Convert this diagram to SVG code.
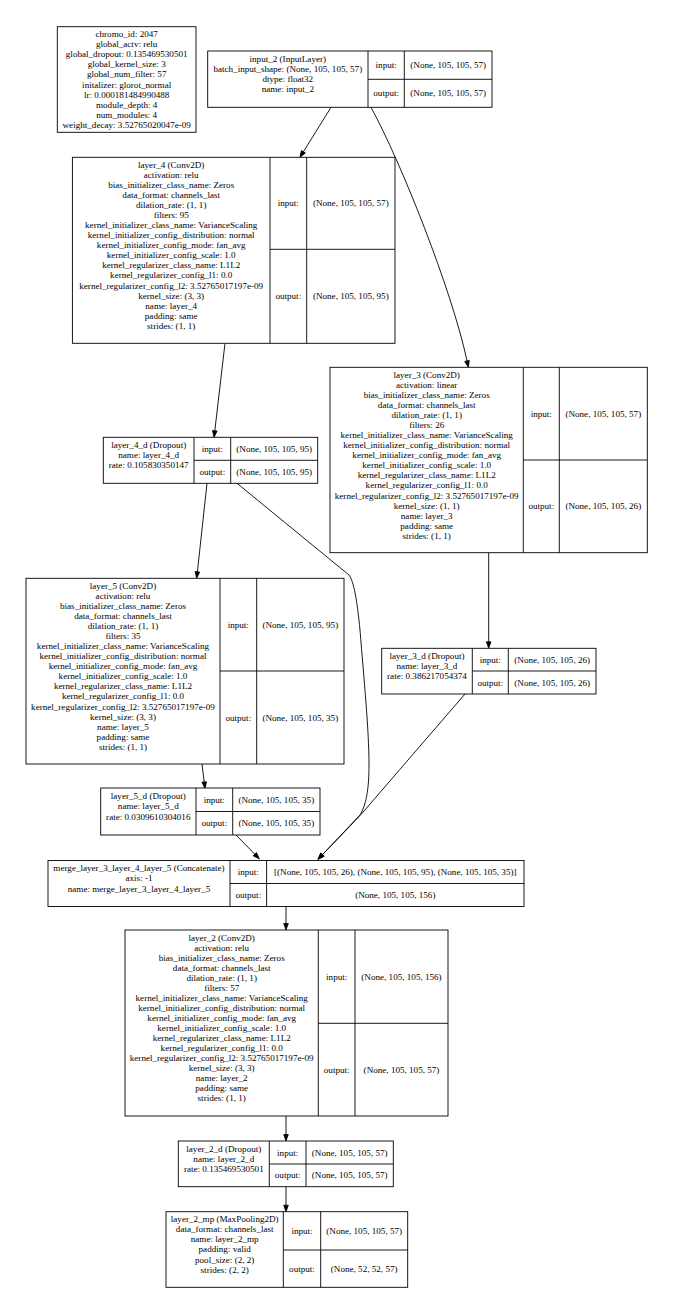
<svg xmlns="http://www.w3.org/2000/svg" width="674" height="1315" viewBox="0 0 674 1315">
<style>
text{font-family:"Liberation Serif","Times New Roman",serif;font-size:9.1px;fill:#000;text-anchor:middle}
.b{fill:#fff;stroke:#000;stroke-width:0.9}
.l{stroke:#000;stroke-width:0.9;fill:none}
.e{stroke:#000;stroke-width:0.9;fill:none;marker-end:url(#ah)}
</style>
<defs>
<marker id="ah" markerUnits="userSpaceOnUse" markerWidth="7" markerHeight="5" refX="0" refY="2.5" orient="auto" overflow="visible">
<path d="M0,0.2 L6.5,2.5 L0,4.8 z" fill="#000" stroke="#000" stroke-width="0.8"/>
</marker>
</defs>
<rect x="0" y="0" width="674" height="1315" fill="#fff"/>

<g id="connectors">
<path class="e" d="M331,107.3 L303.4,151.8"/>
<path class="e" d="M371,107.3 C400,160 452,290 467,360.9"/>
<path class="e" d="M225,343.3 L214.8,430.8"/>
<path class="e" d="M207,483.3 L197.4,571.8"/>
<path class="e" d="M237,483.3 L349,575 C354,582 357,600 360,630 C364,680 369,730 369,765 C369,790 366,805 360,815 L322.5,854.6"/>
<path class="e" d="M488.7,552.7 L488.7,641.8"/>
<path class="e" d="M465,694 L364,811 Q358,818 322.5,854.6"/>
<path class="e" d="M202,764 L204.2,782"/>
<path class="e" d="M236,835 L254.8,854.2"/>
<path class="e" d="M286,906.5 L286,923.5"/>
<path class="e" d="M286,1116 L286,1134.5"/>
<path class="e" d="M286,1186.7 L286,1205.2"/>
</g>

<g id="chromo">
<rect class="b" x="57.3" y="26.7" width="138.7" height="105.6"/>
<text x="126.7" y="37.2"><tspan x="126.7" dy="0">chromo_id: 2047</tspan><tspan x="126.7" dy="10.06">global_actv: relu</tspan><tspan x="126.7" dy="10.06">global_dropout: 0.135469530501</tspan><tspan x="126.7" dy="10.06">global_kernel_size: 3</tspan><tspan x="126.7" dy="10.06">global_num_filter: 57</tspan><tspan x="126.7" dy="10.06">initalizer: glorot_normal</tspan><tspan x="126.7" dy="10.06">lr: 0.000181484990488</tspan><tspan x="126.7" dy="10.06">module_depth: 4</tspan><tspan x="126.7" dy="10.06">num_modules: 4</tspan><tspan x="126.7" dy="10.06">weight_decay: 3.52765020047e-09</tspan></text>
</g>

<g id="input_2">
<rect class="b" x="207.7" y="51" width="284.3" height="56.3"/>
<path class="l" d="M368,51V107.3M404.3,51V107.3M368,79.3H492"/>
<text x="287.8" y="62"><tspan x="287.8" dy="0">input_2 (InputLayer)</tspan><tspan x="287.8" dy="10.06">batch_input_shape: (None, 105, 105, 57)</tspan><tspan x="287.8" dy="10.06">dtype: float32</tspan><tspan x="287.8" dy="10.06">name: input_2</tspan></text>
<text x="386.2" y="68.2">input:</text>
<text x="448.2" y="68.2">(None, 105, 105, 57)</text>
<text x="386.2" y="96.3">output:</text>
<text x="448.2" y="96.3">(None, 105, 105, 57)</text>
</g>

<g id="layer_4">
<rect class="b" x="72.4" y="157.3" width="322.6" height="186"/>
<path class="l" d="M270,157.3V343.3M306.7,157.3V343.3M270,249.3H395"/>
<text x="171.2" y="167.8"><tspan x="171.2" dy="0">layer_4 (Conv2D)</tspan><tspan x="171.2" dy="10.06">activation: relu</tspan><tspan x="171.2" dy="10.06">bias_initializer_class_name: Zeros</tspan><tspan x="171.2" dy="10.06">data_format: channels_last</tspan><tspan x="171.2" dy="10.06">dilation_rate: (1, 1)</tspan><tspan x="171.2" dy="10.06">filters: 95</tspan><tspan x="171.2" dy="10.06">kernel_initializer_class_name: VarianceScaling</tspan><tspan x="171.2" dy="10.06">kernel_initializer_config_distribution: normal</tspan><tspan x="171.2" dy="10.06">kernel_initializer_config_mode: fan_avg</tspan><tspan x="171.2" dy="10.06">kernel_initializer_config_scale: 1.0</tspan><tspan x="171.2" dy="10.06">kernel_regularizer_class_name: L1L2</tspan><tspan x="171.2" dy="10.06">kernel_regularizer_config_l1: 0.0</tspan><tspan x="171.2" dy="10.06">kernel_regularizer_config_l2: 3.52765017197e-09</tspan><tspan x="171.2" dy="10.06">kernel_size: (3, 3)</tspan><tspan x="171.2" dy="10.06">name: layer_4</tspan><tspan x="171.2" dy="10.06">padding: same</tspan><tspan x="171.2" dy="10.06">strides: (1, 1)</tspan></text>
<text x="288.3" y="206.3">input:</text>
<text x="350.8" y="206.3">(None, 105, 105, 57)</text>
<text x="288.3" y="299.3">output:</text>
<text x="350.8" y="299.3">(None, 105, 105, 95)</text>
</g>

<g id="layer_3">
<rect class="b" x="330" y="367.3" width="317.3" height="185.4"/>
<path class="l" d="M523.3,367.3V552.7M559.3,367.3V552.7M523.3,460H647.3"/>
<text x="426.7" y="377.8"><tspan x="426.7" dy="0">layer_3 (Conv2D)</tspan><tspan x="426.7" dy="10.06">activation: linear</tspan><tspan x="426.7" dy="10.06">bias_initializer_class_name: Zeros</tspan><tspan x="426.7" dy="10.06">data_format: channels_last</tspan><tspan x="426.7" dy="10.06">dilation_rate: (1, 1)</tspan><tspan x="426.7" dy="10.06">filters: 26</tspan><tspan x="426.7" dy="10.06">kernel_initializer_class_name: VarianceScaling</tspan><tspan x="426.7" dy="10.06">kernel_initializer_config_distribution: normal</tspan><tspan x="426.7" dy="10.06">kernel_initializer_config_mode: fan_avg</tspan><tspan x="426.7" dy="10.06">kernel_initializer_config_scale: 1.0</tspan><tspan x="426.7" dy="10.06">kernel_regularizer_class_name: L1L2</tspan><tspan x="426.7" dy="10.06">kernel_regularizer_config_l1: 0.0</tspan><tspan x="426.7" dy="10.06">kernel_regularizer_config_l2: 3.52765017197e-09</tspan><tspan x="426.7" dy="10.06">kernel_size: (1, 1)</tspan><tspan x="426.7" dy="10.06">name: layer_3</tspan><tspan x="426.7" dy="10.06">padding: same</tspan><tspan x="426.7" dy="10.06">strides: (1, 1)</tspan></text>
<text x="541.3" y="416.7">input:</text>
<text x="603.3" y="416.7">(None, 105, 105, 57)</text>
<text x="541.3" y="509.3">output:</text>
<text x="603.3" y="509.3">(None, 105, 105, 26)</text>
</g>

<g id="layer_4_d">
<rect class="b" x="103.3" y="437.3" width="214.4" height="46"/>
<path class="l" d="M194,437.3V483.3M230.7,437.3V483.3M194,460.3H317.7"/>
<text x="148.7" y="448"><tspan x="148.7" dy="0">layer_4_d (Dropout)</tspan><tspan x="148.7" dy="10.06">name: layer_4_d</tspan><tspan x="148.7" dy="10.06">rate: 0.105830350147</tspan></text>
<text x="212.3" y="451.8">input:</text>
<text x="274.2" y="451.8">(None, 105, 105, 95)</text>
<text x="212.3" y="474.8">output:</text>
<text x="274.2" y="474.8">(None, 105, 105, 95)</text>
</g>

<g id="layer_5">
<rect class="b" x="26" y="578.3" width="318" height="185.7"/>
<path class="l" d="M220,578.3V764M256.7,578.3V764M220,671H344"/>
<text x="123" y="588.8"><tspan x="123" dy="0">layer_5 (Conv2D)</tspan><tspan x="123" dy="10.06">activation: relu</tspan><tspan x="123" dy="10.06">bias_initializer_class_name: Zeros</tspan><tspan x="123" dy="10.06">data_format: channels_last</tspan><tspan x="123" dy="10.06">dilation_rate: (1, 1)</tspan><tspan x="123" dy="10.06">filters: 35</tspan><tspan x="123" dy="10.06">kernel_initializer_class_name: VarianceScaling</tspan><tspan x="123" dy="10.06">kernel_initializer_config_distribution: normal</tspan><tspan x="123" dy="10.06">kernel_initializer_config_mode: fan_avg</tspan><tspan x="123" dy="10.06">kernel_initializer_config_scale: 1.0</tspan><tspan x="123" dy="10.06">kernel_regularizer_class_name: L1L2</tspan><tspan x="123" dy="10.06">kernel_regularizer_config_l1: 0.0</tspan><tspan x="123" dy="10.06">kernel_regularizer_config_l2: 3.52765017197e-09</tspan><tspan x="123" dy="10.06">kernel_size: (3, 3)</tspan><tspan x="123" dy="10.06">name: layer_5</tspan><tspan x="123" dy="10.06">padding: same</tspan><tspan x="123" dy="10.06">strides: (1, 1)</tspan></text>
<text x="238.3" y="627.6">input:</text>
<text x="300.3" y="627.6">(None, 105, 105, 95)</text>
<text x="238.3" y="720.5">output:</text>
<text x="300.3" y="720.5">(None, 105, 105, 35)</text>
</g>

<g id="layer_3_d">
<rect class="b" x="381.7" y="648.3" width="214.3" height="45.7"/>
<path class="l" d="M472.3,648.3V694M508.3,648.3V694M472.3,671H596"/>
<text x="427" y="659"><tspan x="427" dy="0">layer_3_d (Dropout)</tspan><tspan x="427" dy="10.06">name: layer_3_d</tspan><tspan x="427" dy="10.06">rate: 0.386217054374</tspan></text>
<text x="490.3" y="662.7">input:</text>
<text x="552.2" y="662.7">(None, 105, 105, 26)</text>
<text x="490.3" y="685.5">output:</text>
<text x="552.2" y="685.5">(None, 105, 105, 26)</text>
</g>

<g id="layer_5_d">
<rect class="b" x="100.7" y="788" width="219.3" height="47"/>
<path class="l" d="M196,788V835M232.7,788V835M196,811.5H320"/>
<text x="148.3" y="799.4"><tspan x="148.3" dy="0">layer_5_d (Dropout)</tspan><tspan x="148.3" dy="10.06">name: layer_5_d</tspan><tspan x="148.3" dy="10.06">rate: 0.0309610304016</tspan></text>
<text x="214.3" y="802.7">input:</text>
<text x="276.3" y="802.7">(None, 105, 105, 35)</text>
<text x="214.3" y="826.2">output:</text>
<text x="276.3" y="826.2">(None, 105, 105, 35)</text>
</g>

<g id="merge_layer_3_layer_4_layer_5">
<rect class="b" x="48" y="860.5" width="476" height="46"/>
<path class="l" d="M230,860.5V906.5M266.6,860.5V906.5M230,883.5H524"/>
<text x="139" y="871.4"><tspan x="139" dy="0">merge_layer_3_layer_4_layer_5 (Concatenate)</tspan><tspan x="139" dy="10.06">axis: -1</tspan><tspan x="139" dy="10.06">name: merge_layer_3_layer_4_layer_5</tspan></text>
<text x="248.3" y="875">input:</text>
<text x="395.3" y="875">[(None, 105, 105, 26), (None, 105, 105, 95), (None, 105, 105, 35)]</text>
<text x="248.3" y="898">output:</text>
<text x="395.3" y="898">(None, 105, 105, 156)</text>
</g>

<g id="layer_2">
<rect class="b" x="125" y="930" width="323" height="186"/>
<path class="l" d="M318.3,930V1116M355,930V1116M318.3,1023.3H448"/>
<text x="221.7" y="940.5"><tspan x="221.7" dy="0">layer_2 (Conv2D)</tspan><tspan x="221.7" dy="10.06">activation: relu</tspan><tspan x="221.7" dy="10.06">bias_initializer_class_name: Zeros</tspan><tspan x="221.7" dy="10.06">data_format: channels_last</tspan><tspan x="221.7" dy="10.06">dilation_rate: (1, 1)</tspan><tspan x="221.7" dy="10.06">filters: 57</tspan><tspan x="221.7" dy="10.06">kernel_initializer_class_name: VarianceScaling</tspan><tspan x="221.7" dy="10.06">kernel_initializer_config_distribution: normal</tspan><tspan x="221.7" dy="10.06">kernel_initializer_config_mode: fan_avg</tspan><tspan x="221.7" dy="10.06">kernel_initializer_config_scale: 1.0</tspan><tspan x="221.7" dy="10.06">kernel_regularizer_class_name: L1L2</tspan><tspan x="221.7" dy="10.06">kernel_regularizer_config_l1: 0.0</tspan><tspan x="221.7" dy="10.06">kernel_regularizer_config_l2: 3.52765017197e-09</tspan><tspan x="221.7" dy="10.06">kernel_size: (3, 3)</tspan><tspan x="221.7" dy="10.06">name: layer_2</tspan><tspan x="221.7" dy="10.06">padding: same</tspan><tspan x="221.7" dy="10.06">strides: (1, 1)</tspan></text>
<text x="336.7" y="979.7">input:</text>
<text x="401.5" y="979.7">(None, 105, 105, 156)</text>
<text x="336.7" y="1072.7">output:</text>
<text x="401.5" y="1072.7">(None, 105, 105, 57)</text>
</g>

<g id="layer_2_d">
<rect class="b" x="178.3" y="1141" width="215" height="45.7"/>
<path class="l" d="M269.3,1141V1186.7M306,1141V1186.7M269.3,1164H393.3"/>
<text x="223.8" y="1151.8"><tspan x="223.8" dy="0">layer_2_d (Dropout)</tspan><tspan x="223.8" dy="10.06">name: layer_2_d</tspan><tspan x="223.8" dy="10.06">rate: 0.135469530501</tspan></text>
<text x="287.7" y="1155.5">input:</text>
<text x="349.7" y="1155.5">(None, 105, 105, 57)</text>
<text x="287.7" y="1178.3">output:</text>
<text x="349.7" y="1178.3">(None, 105, 105, 57)</text>
</g>

<g id="layer_2_mp">
<rect class="b" x="166" y="1211.7" width="241.7" height="75.6"/>
<path class="l" d="M283.3,1211.7V1287.3M320.7,1211.7V1287.3M283.3,1250H407.7"/>
<text x="224.7" y="1222.3"><tspan x="224.7" dy="0">layer_2_mp (MaxPooling2D)</tspan><tspan x="224.7" dy="10.06">data_format: channels_last</tspan><tspan x="224.7" dy="10.06">name: layer_2_mp</tspan><tspan x="224.7" dy="10.06">padding: valid</tspan><tspan x="224.7" dy="10.06">pool_size: (2, 2)</tspan><tspan x="224.7" dy="10.06">strides: (2, 2)</tspan></text>
<text x="302" y="1233.8">input:</text>
<text x="364.2" y="1233.8">(None, 105, 105, 57)</text>
<text x="302" y="1271.7">output:</text>
<text x="364.2" y="1271.7">(None, 52, 52, 57)</text>
</g>
</svg>
